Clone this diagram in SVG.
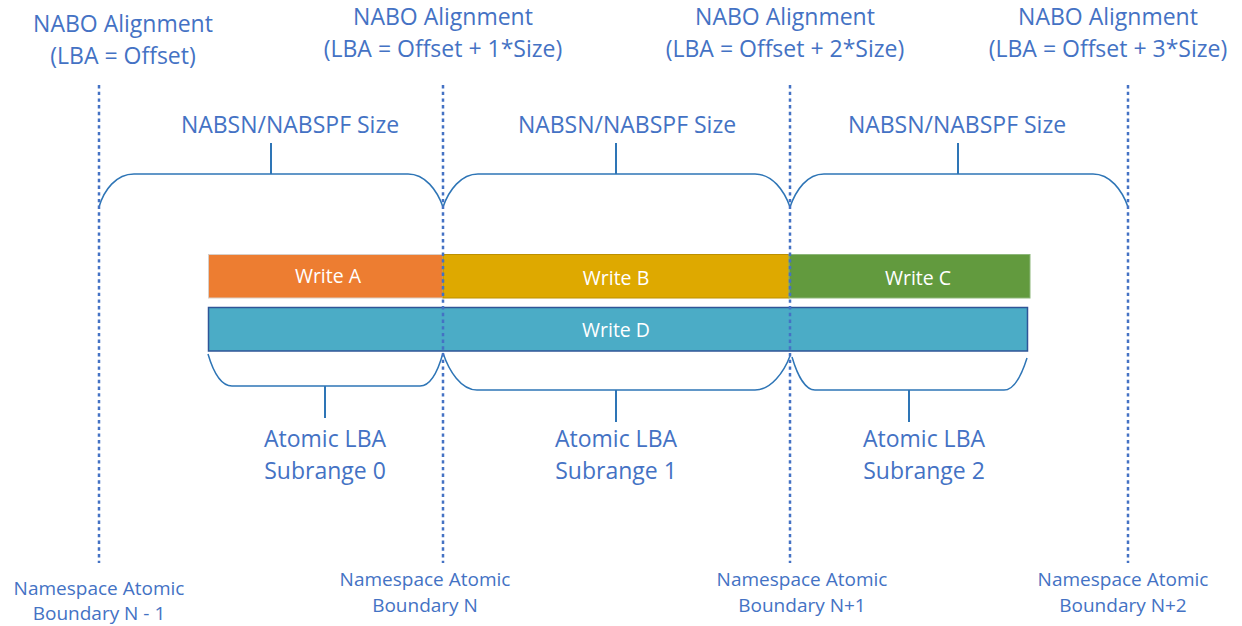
<svg xmlns="http://www.w3.org/2000/svg" width="1242" height="626" viewBox="0 0 1242 626">
  <style>
    .lbl { font-family: "Open Sans", "Liberation Sans", sans-serif; fill: #4472C4; text-anchor: middle; }
    .big { font-size: 23px; }
    .small { font-size: 19px; }
    .bar-text { font-family: "Open Sans", "Liberation Sans", sans-serif; font-size: 19.5px; fill: #FFFFFF; text-anchor: middle; }
    .brace { fill: none; stroke: #2E75B6; stroke-width: 1.5; }
    .stem { fill: none; stroke: #2E75B6; stroke-width: 2; }
    .boundary { fill: none; stroke: #4472C4; stroke-width: 2.5; stroke-dasharray: 3.4 3.3; }
  </style>
  <rect width="1242" height="626" fill="#FFFFFF"/>

  <!-- NABO alignment headings -->
  <g id="nabo-0">
    <text class="lbl big" x="123" y="32">NABO Alignment</text>
    <text class="lbl big" x="123" y="64">(LBA = Offset)</text>
  </g>
  <g id="nabo-1">
    <text class="lbl big" x="443" y="25">NABO Alignment</text>
    <text class="lbl big" x="443" y="57">(LBA = Offset + 1*Size)</text>
  </g>
  <g id="nabo-2">
    <text class="lbl big" x="785" y="25">NABO Alignment</text>
    <text class="lbl big" x="785" y="57">(LBA = Offset + 2*Size)</text>
  </g>
  <g id="nabo-3">
    <text class="lbl big" x="1108" y="25">NABO Alignment</text>
    <text class="lbl big" x="1108" y="57">(LBA = Offset + 3*Size)</text>
  </g>

  <!-- Boundary size labels -->
  <g id="size-0"><text class="lbl big" x="290" y="133">NABSN/NABSPF Size</text></g>
  <g id="size-1"><text class="lbl big" x="627" y="133">NABSN/NABSPF Size</text></g>
  <g id="size-2"><text class="lbl big" x="957" y="133">NABSN/NABSPF Size</text></g>

  <!-- Write commands -->
  <g id="write-a">
    <rect x="208.5" y="254.5" width="234.5" height="43.5" fill="#ED7D31" stroke="#D8CFC8" stroke-width="1"/>
    <text class="bar-text" x="328" y="283">Write A</text>
  </g>
  <g id="write-b">
    <rect x="443" y="254.5" width="346" height="43.5" fill="#DEA900" stroke="#BC9000" stroke-width="1"/>
    <text class="bar-text" x="616" y="285">Write B</text>
  </g>
  <g id="write-c">
    <rect x="789" y="254.5" width="241" height="43.5" fill="#629A3E" stroke="#8DB77A" stroke-width="1"/>
    <text class="bar-text" x="918" y="285">Write C</text>
  </g>
  <g id="write-d">
    <rect x="208.5" y="307.5" width="819" height="43.5" fill="#4BACC6" stroke="#2F5597" stroke-width="1.5"/>
    <text class="bar-text" x="616" y="337">Write D</text>
  </g>

  <!-- Subrange labels -->
  <g id="subrange-0">
    <text class="lbl big" x="325" y="447">Atomic LBA</text>
    <text class="lbl big" x="325" y="479">Subrange 0</text>
  </g>
  <g id="subrange-1">
    <text class="lbl big" x="616" y="447">Atomic LBA</text>
    <text class="lbl big" x="616" y="479">Subrange 1</text>
  </g>
  <g id="subrange-2">
    <text class="lbl big" x="924" y="447">Atomic LBA</text>
    <text class="lbl big" x="924" y="479">Subrange 2</text>
  </g>

  <!-- Namespace atomic boundary labels -->
  <g id="boundary-n-1">
    <text class="lbl small" x="99" y="595">Namespace Atomic</text>
    <text class="lbl small" x="99" y="620">Boundary N - 1</text>
  </g>
  <g id="boundary-n">
    <text class="lbl small" x="425" y="586">Namespace Atomic</text>
    <text class="lbl small" x="425" y="612">Boundary N</text>
  </g>
  <g id="boundary-n+1">
    <text class="lbl small" x="802" y="586">Namespace Atomic</text>
    <text class="lbl small" x="802" y="612">Boundary N+1</text>
  </g>
  <g id="boundary-n+2">
    <text class="lbl small" x="1123" y="586">Namespace Atomic</text>
    <text class="lbl small" x="1123" y="612">Boundary N+2</text>
  </g>

  <!-- Braces, stems and boundary lines -->
  <g id="connectors">
    <path class="brace" d="M99,207 C104,190 116,174 134,174 L408,174 C425,174 437,190 443,207"/>
    <path class="brace" d="M443,207 C449,190 461,174 478,174 L755,174 C772,174 784,190 790,207"/>
    <path class="brace" d="M790,207 C796,190 807,174 824,174 L1093,174 C1110,174 1122,190 1128,207"/>
    <path class="stem" d="M271,143 V174"/>
    <path class="stem" d="M616,143 V174"/>
    <path class="stem" d="M958,143 V174"/>

    <path class="brace" d="M208,354 C213,371 221,386 232,386 L420,386 C431,386 438,371 443,353"/>
    <path class="brace" d="M443,353 C449,371 461,390 477,390 L755,390 C771,390 784,372 790,356"/>
    <path class="brace" d="M792,357 C797,374 805,390 815,390 L1004,390 C1014,390 1022,374 1027,358"/>
    <path class="stem" d="M325,386 V418"/>
    <path class="stem" d="M616,390 V422"/>
    <path class="stem" d="M909,390 V422"/>

    <path class="boundary" d="M99,85 V563"/>
    <path class="boundary" d="M443,85 V563"/>
    <path class="boundary" d="M790,85 V563"/>
    <path class="boundary" d="M1128,85 V563"/>
  </g>
</svg>
